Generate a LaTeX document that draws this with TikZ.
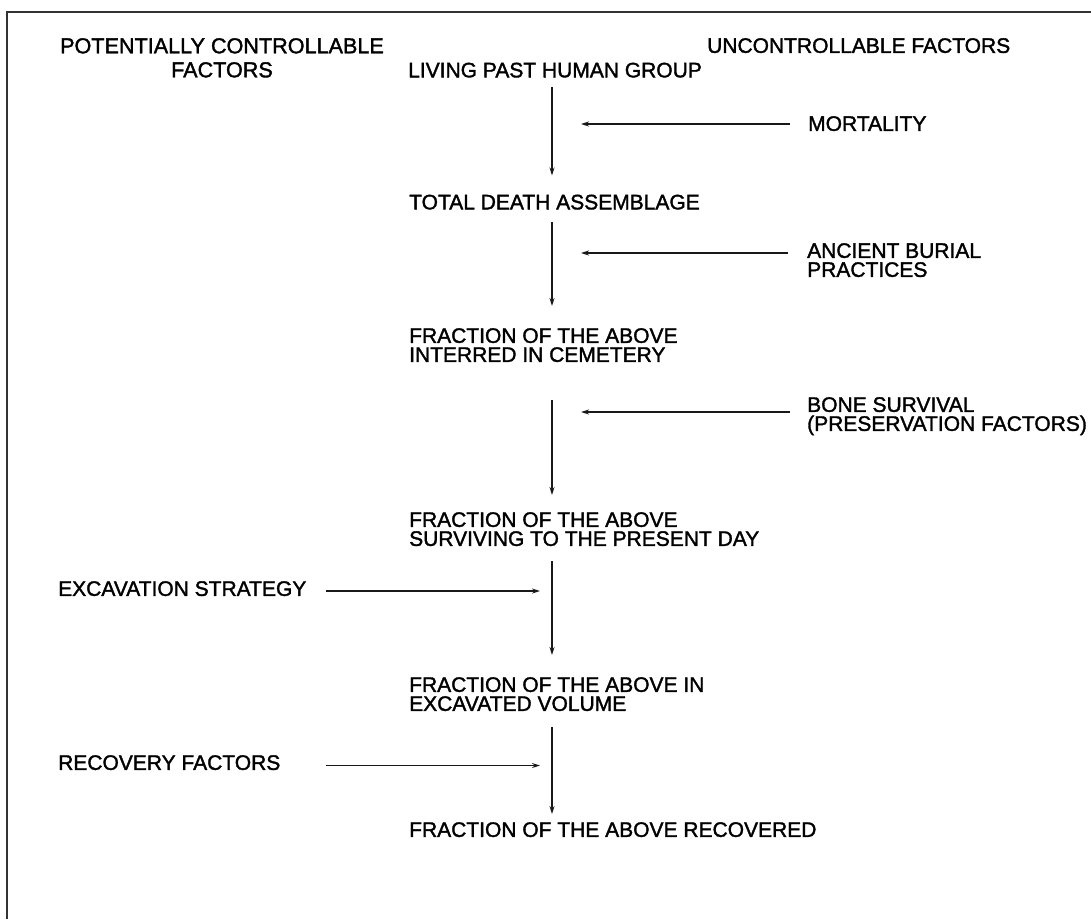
\documentclass[tikz,border=0pt]{standalone}
\usepackage{fontspec}
\setmainfont{Liberation Sans}
\newfontfamily\scanfont{Liberation Sans}[FakeBold=1.6]
\usetikzlibrary{arrows.meta}
\begin{document}
\begin{tikzpicture}[x=1pt,y=-1pt,
  lbl/.style={inner sep=0pt, anchor=north west, align=left, font=\scanfont\fontsize{21}{19}\selectfont, text=black},
  flow/.style={line width=1.3pt, black!90, -{Stealth[length=8pt,width=5pt]}},
  frame/.style={line width=1.8pt, black!80}]
\useasboundingbox (0,0) rectangle (1091,919);
\draw[frame] (7,919) -- (7,12) -- (1091,12);
\coordinate (spine) at (552,0);
\coordinate (tipR) at (581,0);
\coordinate (tipL) at (540,0);
\coordinate (startL) at (326,0);
% headers
\node[lbl, anchor=north, align=center, font=\scanfont\fontsize{21.6}{24}\selectfont] (pc) at (222,38) {POTENTIALLY CONTROLLABLE\\FACTORS};
\node[lbl] (uc) at (707,38) {UNCONTROLLABLE FACTORS};
% main column
\node[lbl] (living) at (408,62.5) {LIVING PAST HUMAN GROUP};
\node[lbl] (total) at (409,194.5) {TOTAL DEATH ASSEMBLAGE};
\node[lbl] (interred) at (409,328) {FRACTION OF THE ABOVE\\INTERRED IN CEMETERY};
\node[lbl] (surv) at (409,512) {FRACTION OF THE ABOVE\\SURVIVING TO THE PRESENT DAY};
\node[lbl] (excv) at (409,677) {FRACTION OF THE ABOVE IN\\EXCAVATED VOLUME};
\node[lbl] (recov) at (409,822) {FRACTION OF THE ABOVE RECOVERED};
% right factors
\node[lbl] (mort) at (808,116) {MORTALITY};
\node[lbl] (anc) at (807,243) {ANCIENT BURIAL\\PRACTICES};
\node[lbl] (bone) at (807,397) {BONE SURVIVAL\\(PRESERVATION FACTORS)};
% left factors
\node[lbl] (exc) at (58,581) {EXCAVATION STRATEGY};
\node[lbl] (rec) at (58,755) {RECOVERY FACTORS};
% vertical flow
\draw[flow] ([yshift=-9pt]living.south -| spine) -- ([yshift=19pt]total.north -| spine);
\draw[flow] ([yshift=-12pt]total.south -| spine) -- ([yshift=22pt]interred.north -| spine);
\draw[flow] ([yshift=-38pt]interred.south -| spine) -- ([yshift=17pt]surv.north -| spine);
\draw[flow] ([yshift=-15pt]surv.south -| spine) -- ([yshift=22pt]excv.north -| spine);
\draw[flow] ([yshift=-16pt]excv.south -| spine) -- ([yshift=8pt]recov.north -| spine);
% right arrows
\draw[flow] ([xshift=-18pt,yshift=-8pt]mort.north west) -- ([yshift=-8pt]mort.north west -| tipR);
\draw[flow] ([xshift=-19pt,yshift=-10pt]anc.north west) -- ([yshift=-10pt]anc.north west -| tipR);
\draw[flow] ([xshift=-17pt,yshift=-15pt]bone.north west) -- ([yshift=-15pt]bone.north west -| tipR);
% left arrows
\draw[flow] ([yshift=-10pt]exc.north west -| startL) -- ([yshift=-10pt]exc.north west -| tipL);
\draw[flow] ([yshift=-10.5pt]rec.north west -| startL) -- ([yshift=-10.5pt]rec.north west -| tipL);
\end{tikzpicture}
\end{document}
